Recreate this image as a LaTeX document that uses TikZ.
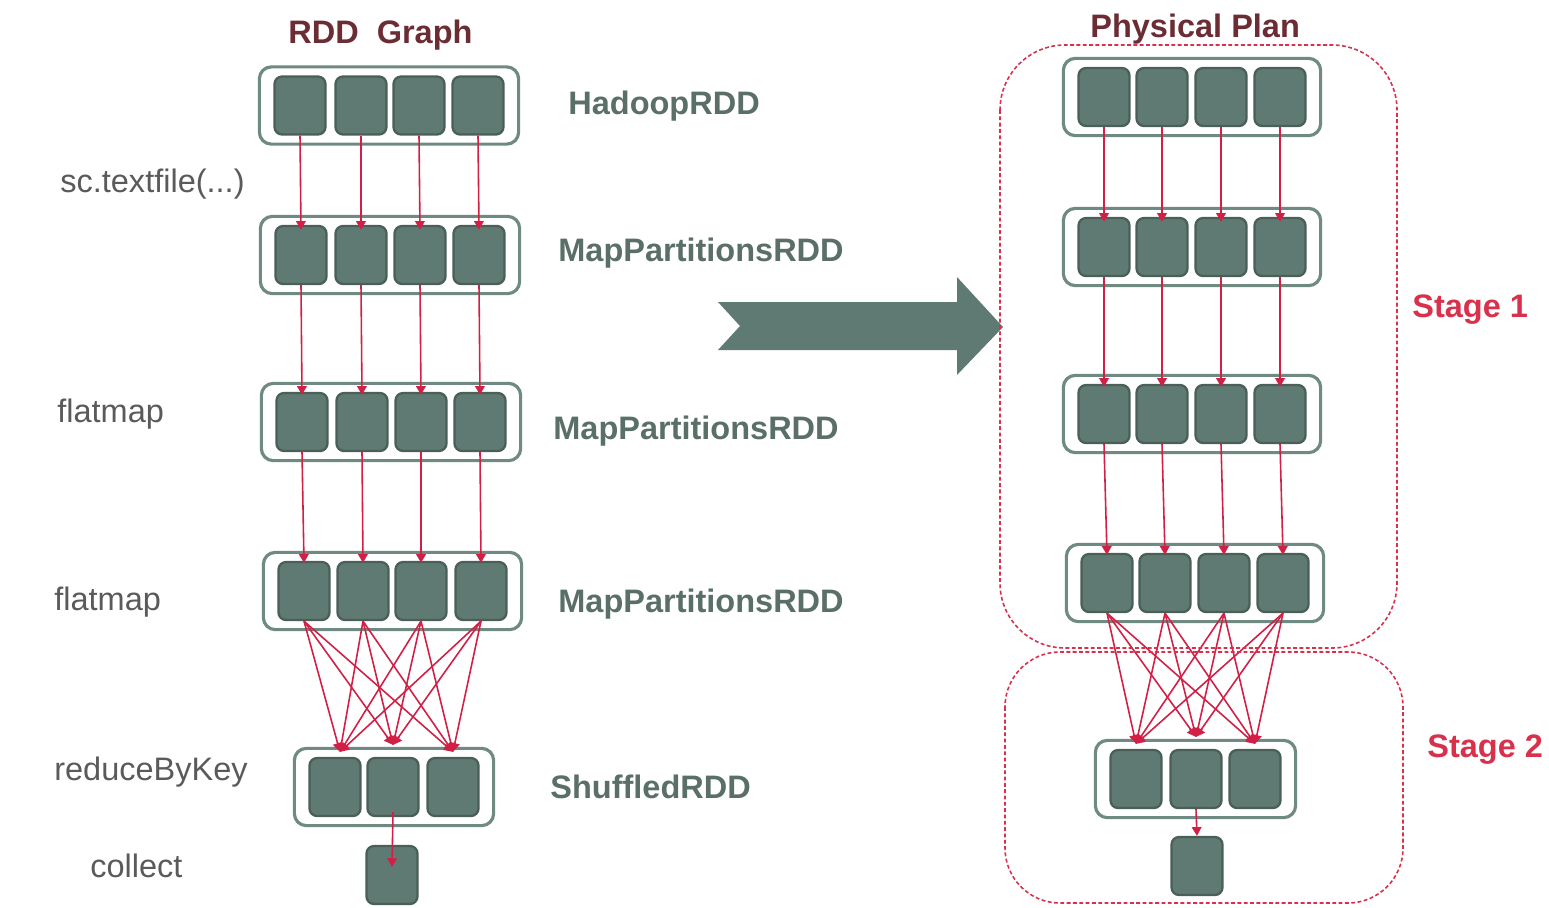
\documentclass[tikz,border=0pt]{standalone}
\usepackage{fontspec}
\setmainfont{Liberation Sans}
\usetikzlibrary{arrows.meta,fit}
\definecolor{partfill}{HTML}{5F7A72}
\definecolor{partedge}{HTML}{4A5F58}
\definecolor{rddedge}{HTML}{6E8A82}
\definecolor{flowred}{HTML}{D21F45}
\definecolor{stagered}{HTML}{D9304C}
\definecolor{oplabel}{HTML}{5A5A5A}
\definecolor{rddlabel}{HTML}{5A6F68}
\definecolor{headline}{HTML}{6B2D33}
\begin{document}
\begin{tikzpicture}[x=0.02cm,y=-0.02cm,
  part/.style={rectangle,rounded corners=0.15cm,fill=partfill,draw=partedge,
    line width=1.3pt,minimum width=1.02cm,minimum height=1.16cm,inner sep=0pt},
  rdd/.style={rectangle,rounded corners=0.24cm,draw=rddedge,line width=1.8pt,
    inner xsep=0.28cm,inner ysep=0.17cm},
  flow/.style={draw=flowred,line width=0.9pt,
    -{Triangle[length=5pt,width=5.5pt]}},
  stage/.style={draw=stagered,line width=0.9pt,dash pattern=on 2.2pt off 1.4pt},
  txt/.style={font=\fontsize{18.5}{22}\selectfont,inner sep=0pt,anchor=base west},
  oplbl/.style={txt,text=oplabel},
  rddlbl/.style={txt,text=rddlabel,font=\fontsize{18.5}{22}\selectfont\bfseries},
  headlbl/.style={txt,text=headline,font=\fontsize{18.5}{22}\selectfont\bfseries},
  stagelbl/.style={txt,text=stagered,font=\fontsize{18.5}{22}\selectfont\bfseries}]
\useasboundingbox (0,0) rectangle (1549,907);

% ---------- RDD graph (left) ----------
\foreach \i/\x in {1/300,2/361,3/419,4/478} \node[part] (la\i) at (\x,105.5) {};
\foreach \i/\x in {1/301,2/361,3/420,4/479} \node[part] (lb\i) at (\x,255) {};
\foreach \i/\x in {1/302,2/362,3/421,4/480} \node[part] (lc\i) at (\x,422) {};
\foreach \i/\x in {1/304,2/363,3/421,4/481} \node[part] (ld\i) at (\x,591) {};
\foreach \i/\x in {1/335,2/393,3/453} \node[part] (le\i) at (\x,787) {};
\node[part] (lf) at (392,875) {};

\node[rdd,fit=(la1)(la4)] (lA) {};
\node[rdd,fit=(lb1)(lb4)] (lB) {};
\node[rdd,fit=(lc1)(lc4)] (lC) {};
\node[rdd,fit=(ld1)(ld4)] (lD) {};
\node[rdd,fit=(le1)(le3)] (lE) {};

\foreach \i in {1,2,3,4} {
  \draw[flow] (la\i.south) -- ([yshift=-0.1cm]lb\i.north);
  \draw[flow] (lb\i.south) -- ([yshift=-0.06cm]lc\i.north);
  \draw[flow] (lc\i.south) -- ([yshift=-0.04cm]ld\i.north);
}
\foreach \i in {1,2,3,4} {
  \draw[flow] (ld\i.south) -- ([xshift=0.1cm,yshift=0.1cm]le1.north);
  \draw[flow] (ld\i.south) -- ([yshift=0.24cm]le2.north);
  \draw[flow] (ld\i.south) -- ([yshift=0.1cm]le3.north);
}
\draw[flow] ([yshift=0.1cm]le2.south) -- ([yshift=0.16cm]lf.center);

\node[headlbl] (t1) at (288,43) {RDD\ \ Graph};
\node[oplbl] (o1) at (60,192) {sc.textfile(...)};
\node[oplbl] (o2) at (57,422) {flatmap};
\node[oplbl] (o3) at (54,610) {flatmap};
\node[oplbl] (o4) at (54,780) {reduceByKey};
\node[oplbl] (o5) at (90,877) {collect};
\node[rddlbl] (r1) at (568,114) {HadoopRDD};
\node[rddlbl] (r2) at (558,261) {MapPartitionsRDD};
\node[rddlbl] (r3) at (553,439) {MapPartitionsRDD};
\node[rddlbl] (r4) at (558,612) {MapPartitionsRDD};
\node[rddlbl] (r5) at (550,798) {ShuffledRDD};

% ---------- transformation arrow ----------
\fill[partfill] (718,302) -- (957,302) -- (957,277) -- (1003,327) -- (957,375)
  -- (957,350) -- (718,350) -- (740,326) -- cycle;

% ---------- physical plan (right) ----------
\foreach \i/\x in {1/1104,2/1162,3/1221,4/1280} {
  \node[part] (ra\i) at (\x,97) {};
  \node[part] (rb\i) at (\x,247) {};
  \node[part] (rc\i) at (\x,414) {};
}
\foreach \i/\x in {1/1107,2/1165,3/1224,4/1283} \node[part] (rd\i) at (\x,583) {};
\foreach \i/\x in {1/1136,2/1196,3/1255} \node[part] (re\i) at (\x,779) {};
\node[part] (rf) at (1197,866) {};

\node[rdd,fit=(ra1)(ra4)] (rA) {};
\node[rdd,fit=(rb1)(rb4)] (rB) {};
\node[rdd,fit=(rc1)(rc4)] (rC) {};
\node[rdd,fit=(rd1)(rd4)] (rD) {};
\node[rdd,fit=(re1)(re3)] (rE) {};

\foreach \i in {1,2,3,4} {
  \draw[flow] (ra\i.south) -- ([yshift=-0.1cm]rb\i.north);
  \draw[flow] (rb\i.south) -- ([yshift=-0.06cm]rc\i.north);
  \draw[flow] (rc\i.south) -- ([yshift=-0.04cm]rd\i.north);
}
\foreach \i in {1,2,3,4} {
  \draw[flow] (rd\i.south) -- ([yshift=0.1cm]re1.north);
  \draw[flow] (rd\i.south) -- ([yshift=0.24cm]re2.north);
  \draw[flow] (rd\i.south) -- ([yshift=0.1cm]re3.north);
}
\draw[flow] (re2.south) -- (rf.north);

\draw[stage,rounded corners=1.3cm] (1000,45) rectangle (1397,648);
\draw[stage,rounded corners=1.1cm] (1005,652) rectangle (1403,903);

\node[headlbl] (t2) at (1090,37) {Physical Plan};
\node[stagelbl] (s1) at (1412,317) {Stage 1};
\node[stagelbl] (s2) at (1427,757) {Stage 2};
\end{tikzpicture}
\end{document}
